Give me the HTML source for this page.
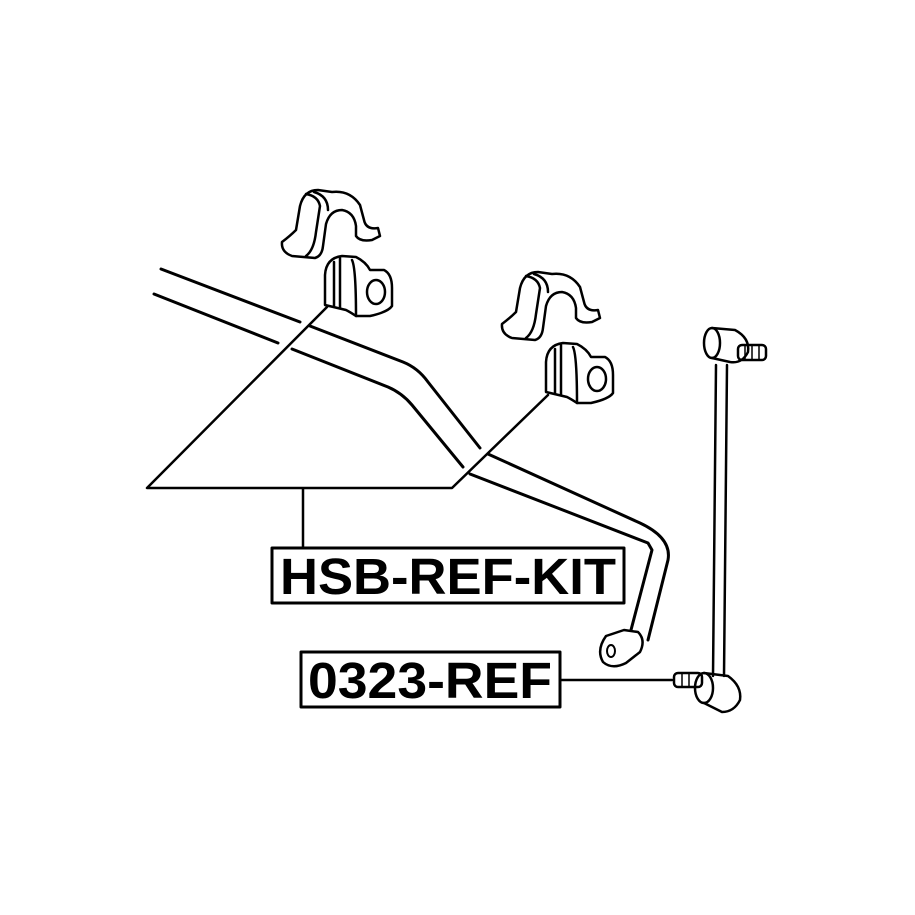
<!DOCTYPE html>
<html><head><style>body{margin:0;background:#fff}svg{display:block}</style></head><body>
<svg width="915" height="915" viewBox="0 0 915 915" xmlns="http://www.w3.org/2000/svg" fill="none" stroke="#000" stroke-width="3" stroke-linecap="round" stroke-linejoin="round">
<rect width="915" height="915" fill="#fff" stroke="none"/>
<path d="M161 269 L300 322 M310 326 L403 362 Q418 368 428 382 L480 448 M488 454 L640 523 Q672 538 668 560 L648 640"/>
<path d="M154 294 L278 343 M292 349 L388 387 Q402 393 412 405 L463 467 M470 474 L648 543 L652 550 L631 630"/>
<path d="M606 636 Q596 650 603 662 Q612 670 626 663 L640 652 Q646 640 638 632 L624 630 Z" stroke-width="2.5"/>
<ellipse cx="611" cy="651" rx="4" ry="6" stroke-width="2"/>
<g stroke-width="2.5">
<path d="M282 242 Q281 252 292 256 L315 258 Q322 256 323 246 L326 224 Q330 210 342 210 Q354 212 356 226 L356 236 Q360 242 372 240 L380 236 L378 228 Q366 230 364 220 L360 205 Q350 190 332 192 L318 190 Q304 190 300 206 L296 230 Q290 236 282 242 Z"/>
<path d="M306 194 Q318 196 320 206 L316 232 Q314 250 306 256 M314 192 Q328 196 328 210"/>
<path d="M502 324 Q501 334 512 338 L535 340 Q542 338 543 328 L546 306 Q550 292 562 292 Q574 294 576 308 L576 318 Q580 324 592 322 L600 318 L598 310 Q586 312 584 302 L580 287 Q570 272 552 274 L538 272 Q524 272 520 288 L516 312 Q510 318 502 324 Z"/>
<path d="M526 276 Q538 278 540 288 L536 314 Q534 332 526 338 M534 274 Q548 278 548 292"/>
</g>
<g stroke-width="2.5">
<path d="M325 305 L325 275 Q326 258 342 256 L356 257 Q366 262 370 270 L384 270 Q392 274 392 288 L392 306 Q388 312 370 316 L356 316 Q350 312 346 310 Z"/>
<path d="M334 262 L334 306 M340 258 L340 308 M352 260 Q356 268 356 316"/>
<ellipse cx="376" cy="292" rx="9" ry="12"/>
<path d="M546 392 L546 362 Q547 345 563 343 L577 344 Q587 349 591 357 L605 357 Q613 361 613 375 L613 393 Q609 399 591 403 L577 403 Q571 399 567 397 Z"/>
<path d="M555 349 L555 393 M561 345 L561 395 M573 347 Q577 355 577 403"/>
<ellipse cx="597" cy="379" rx="9" ry="12"/>
</g>
<path d="M716 365 L713 676 M727 365 L724 676" stroke-width="2.5"/>
<g stroke-width="2.5">
<ellipse cx="712" cy="343" rx="8" ry="15"/>
<path d="M712 328 L735 330 Q750 338 748 352 Q742 364 730 362 L712 358"/>
<rect x="738" y="345" width="28" height="15" rx="4"/>
<path d="M745 345 L745 360 M752 345 L752 360 M759 345 L759 360" stroke-width="1.5"/>
<ellipse cx="704" cy="688" rx="9" ry="15"/>
<path d="M704 673 L728 676 Q742 686 740 700 Q734 712 722 712 L704 703"/>
<rect x="674" y="673" width="28" height="14" rx="4"/>
<path d="M682 673 L682 687 M689 673 L689 687" stroke-width="1.5"/>
</g>
<path d="M327 307 L147 488 L452 488 L548 395 M303 488 L303 548 M560 680 L672 680" stroke-width="2.5"/>
<rect x="272" y="548" width="352" height="55" stroke-width="3"/>
<rect x="301" y="652" width="259" height="55" stroke-width="3"/>
<g fill="#000" stroke="none" font-family="Liberation Sans, sans-serif" font-weight="bold" font-size="51">
<text x="448" y="594" text-anchor="middle" textLength="336" lengthAdjust="spacingAndGlyphs">HSB-REF-KIT</text>
<text x="430" y="698" text-anchor="middle" textLength="244" lengthAdjust="spacingAndGlyphs">0323-REF</text>
</g>
</svg>
</body></html>
